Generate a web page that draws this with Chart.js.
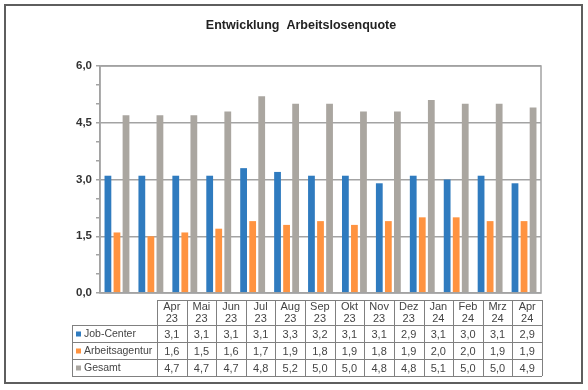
<!DOCTYPE html>
<html lang="de">
<head>
<meta charset="UTF-8">
<title>Entwicklung Arbeitslosenquote</title>
<script src="https://cdn.jsdelivr.net/npm/chart.js"></script>
<style>
  body { margin: 0; background: #fff; }
  #frame { position: absolute; left: 4px; top: 4px; width: 575px; height: 376px; border: 2px solid #5e5e5e; }
  canvas { position: absolute; left: 0; top: 0; }
</style>
</head>
<body>
<div id="frame"></div>
<canvas id="chart" width="588" height="390"></canvas>
<script>
const months = ['Apr 23', 'Mai 23', 'Jun 23', 'Jul 23', 'Aug 23', 'Sep 23', 'Okt 23', 'Nov 23', 'Dez 23', 'Jan 24', 'Feb 24', 'Mrz 24', 'Apr 24'];
const jobCenter = [3.1, 3.1, 3.1, 3.1, 3.3, 3.2, 3.1, 3.1, 2.9, 3.1, 3.0, 3.1, 2.9];
const agentur = [1.6, 1.5, 1.6, 1.7, 1.9, 1.8, 1.9, 1.8, 1.9, 2.0, 2.0, 1.9, 1.9];
const gesamt = [4.7, 4.7, 4.7, 4.8, 5.2, 5.0, 5.0, 4.8, 4.8, 5.1, 5.0, 5.0, 4.9];
const seriesNames = ['Job-Center', 'Arbeitsagentur', 'Gesamt'];
const yTicks = [0, 1.5, 3, 4.5, 6];

const colors = ['#2f7bbf', '#ff9340', '#aaa6a0'];
const fmt = v => v.toFixed(1).replace('.', ',');
const font = 'Liberation Sans, Arial, sans-serif';

// title, plot frame and the data table underneath
const extras = {
    id: 'extras',
    afterDatasetsDraw(chart) {
        const ctx = chart.ctx;
        const a = chart.chartArea;
        ctx.save();
        ctx.strokeStyle = '#a3a3a3';
        ctx.lineWidth = 1.5;
        ctx.strokeRect(a.left, a.top, a.right - a.left, a.bottom - a.top);
        ctx.restore();
    },
    afterDraw(chart) {
        const ctx = chart.ctx;
        ctx.save();
        ctx.fillStyle = '#222';
        ctx.font = 'bold 12.5px ' + font;
        ctx.textAlign = 'center';
        ctx.textBaseline = 'middle';
        ctx.fillText('Entwicklung  Arbeitslosenquote', 301, 26);

        // table geometry
        const tl = 72, t0 = 157, tr = 542;
        const rows = [300, 325, 342, 359, 376];
        const cw = (tr - t0) / months.length;
        const data = [jobCenter, agentur, gesamt];

        ctx.strokeStyle = '#808080';
        ctx.lineWidth = 1;
        ctx.beginPath();
        ctx.moveTo(t0, rows[0] + 0.5); ctx.lineTo(tr, rows[0] + 0.5);
        for (let r = 1; r < rows.length; r++) {
            ctx.moveTo(tl, rows[r] + 0.5); ctx.lineTo(tr, rows[r] + 0.5);
        }
        ctx.moveTo(tl + 0.5, rows[1]); ctx.lineTo(tl + 0.5, rows[4]);
        for (let c = 0; c <= months.length; c++) {
            const x = Math.round(t0 + c * cw) + 0.5;
            ctx.moveTo(x, rows[0]); ctx.lineTo(x, rows[4]);
        }
        ctx.stroke();

        ctx.font = '11px ' + font;
        ctx.fillStyle = '#444';
        ctx.textAlign = 'center';
        months.forEach((m, i) => {
            const cx = t0 + (i + 0.5) * cw;
            const parts = m.split(' ');
            ctx.fillText(parts[0], cx, 307);
            ctx.fillText(parts[1], cx, 319);
            data.forEach((s, r) => {
                ctx.fillText(fmt(s[i]), cx, (rows[r + 1] + rows[r + 2]) / 2 + 1);
            });
        });
        ctx.textAlign = 'left';
        ctx.font = '10.5px ' + font;
        seriesNames.forEach((n, r) => {
            const cy = (rows[r + 1] + rows[r + 2]) / 2 + 1;
            ctx.fillStyle = colors[r];
            ctx.fillRect(76, cy - 3, 5, 5);
            ctx.fillStyle = '#444';
            ctx.fillText(n, 84, cy);
        });
        ctx.restore();
    }
};

new Chart(document.getElementById('chart'), {
    type: 'bar',
    data: {
        labels: months,
        datasets: [
            { label: seriesNames[0], data: jobCenter, backgroundColor: colors[0] },
            { label: seriesNames[1], data: agentur, backgroundColor: colors[1] },
            { label: seriesNames[2], data: gesamt, backgroundColor: colors[2] }
        ]
    },
    options: {
        responsive: false,
        animation: false,
        devicePixelRatio: 1,
        categoryPercentage: 0.8,
        barPercentage: 0.75,
        layout: { padding: { top: 66, left: 0, right: 47, bottom: 97 } },
        plugins: { legend: { display: false }, title: { display: false }, tooltip: { enabled: false } },
        scales: {
            x: {
                ticks: { display: false },
                grid: { display: false },
                border: { display: false },
                afterFit: s => { s.height = 0; }
            },
            y: {
                min: 0,
                max: 6,
                ticks: {
                    stepSize: 0.5,
                    autoSkip: false,
                    padding: 4,
                    color: '#333',
                    font: { family: font, size: 11.5, weight: 'bold' },
                    callback: v => yTicks.includes(v) ? fmt(v) : ''
                },
                grid: {
                    color: c => yTicks.includes(c.tick.value) ? '#a3a3a3' : 'rgba(0,0,0,0)',
                    tickColor: '#a3a3a3',
                    tickLength: 4,
                    lineWidth: 1.5
                },
                border: { color: '#a3a3a3', width: 1.5 },
                afterFit: s => { s.width = 100; }
            }
        }
    },
    plugins: [extras]
});
</script>
</body>
</html>
